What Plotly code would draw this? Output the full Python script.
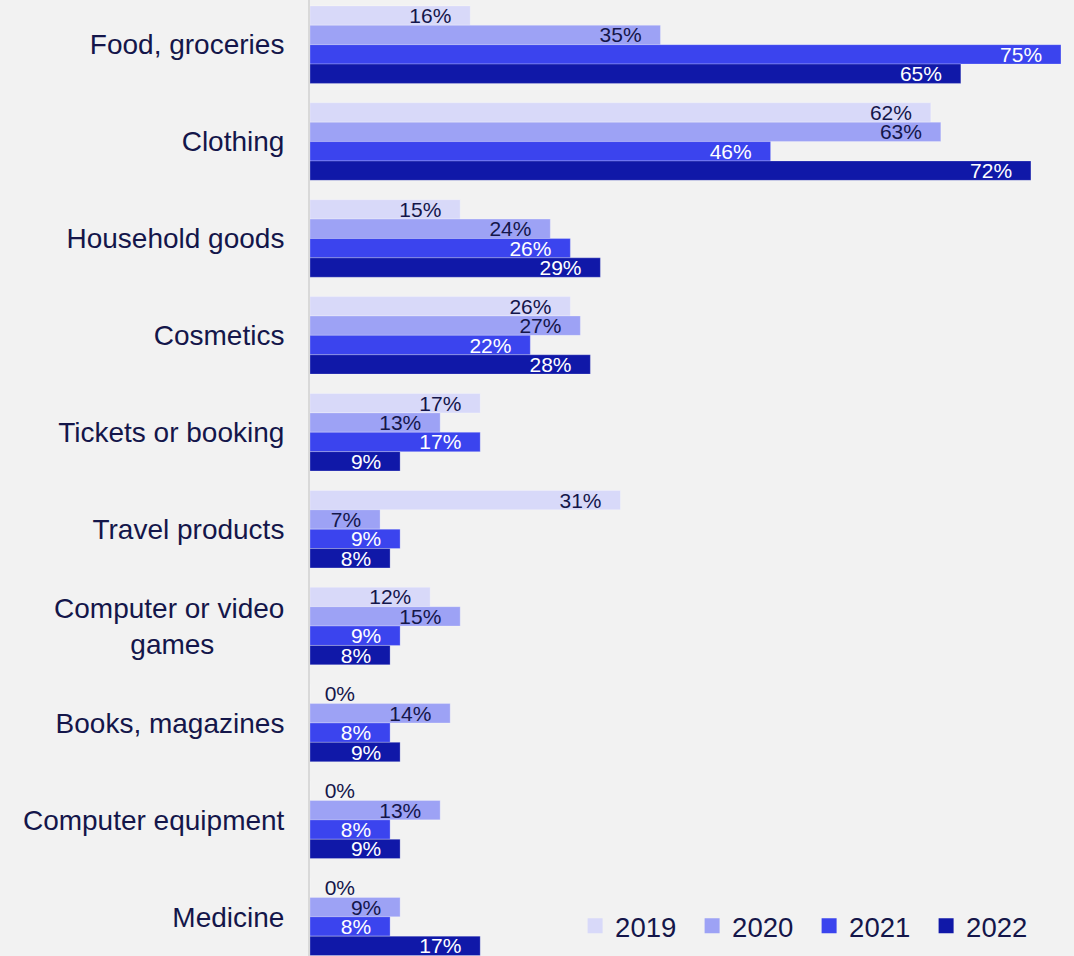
import plotly.graph_objects as go

NB = "\u00a0"
categories = ["Food, groceries", "Clothing", "Household goods", "Cosmetics",
              "Tickets or booking", "Travel products",
              "Computer or video<br>games" + NB * 9,
              "Books, magazines", "Computer equipment", "Medicine"]
years = ["2019", "2020", "2021", "2022"]
v2019 = [16, 62, 15, 26, 17, 31, 12, 0, 0, 0]
v2020 = [35, 63, 24, 27, 13, 7, 15, 14, 13, 9]
v2021 = [75, 46, 26, 22, 17, 9, 9, 8, 8, 8]
v2022 = [65, 72, 29, 28, 9, 8, 8, 9, 9, 17]
series = [v2019, v2020, v2021, v2022]

colors = ["#d8d9f9", "#9da2f5", "#3b44ee", "#1018a8"]
text_colors = ["#14164a", "#14164a", "#ffffff", "#ffffff"]
dark = "#14164a"
FONT = "Liberation Sans, Arial, sans-serif"

fig = go.Figure()
for name, vals, col, tcol in zip(years, series, colors, text_colors):
    texts, positions, tcols = [], [], []
    for v in vals:
        if v == 0:
            texts.append(NB * 2 + f"{v}%")
            positions.append("outside")
            tcols.append(dark)
        else:
            texts.append(f"{v}%" + NB * 2 + "\u2009")
            positions.append("inside")
            tcols.append(tcol)
    fig.add_trace(go.Bar(
        name=name, y=categories, x=vals, orientation="h",
        marker=dict(color=col, line=dict(color="rgba(255,255,255,0.25)", width=1)),
        text=texts, textposition=positions, insidetextanchor="end",
        constraintext="none", cliponaxis=False,
        textfont=dict(family=FONT, size=21, color=tcols),
        hoverinfo="skip", showlegend=False,
    ))

# legend entries (square swatches)
for name, col in zip(years, colors):
    fig.add_trace(go.Scatter(
        name=name, x=[None], y=[None], mode="markers",
        marker=dict(symbol="square", size=15, color=col),
        showlegend=True, hoverinfo="skip",
    ))

fig.update_layout(
    width=1074, height=956,
    margin=dict(l=310, r=0, t=0, b=0),
    paper_bgcolor="#f2f2f2", plot_bgcolor="#f2f2f2",
    barmode="group", bargap=0.2, bargroupgap=0,
    font=dict(family=FONT, color=dark),
    showlegend=True,
    legend=dict(orientation="h", x=0.347, xanchor="left", y=0.0314, yanchor="middle",
                font=dict(size=27.5, color=dark), bgcolor="rgba(0,0,0,0)",
                traceorder="normal", entrywidth=72, entrywidthmode="pixels",
                itemwidth=30),
    xaxis=dict(range=[0, 76.3], visible=False, fixedrange=True),
    yaxis=dict(type="category", range=[9.405, -0.461], showgrid=False,
               showline=True, linecolor="#d9d9d9", linewidth=2,
               ticks="", ticklabelstandoff=18, fixedrange=True,
               tickfont=dict(size=28, color=dark)),
)

fig.write_html("out.html", config={"displayModeBar": False},
               post_script="document.body.style.margin='0';")
